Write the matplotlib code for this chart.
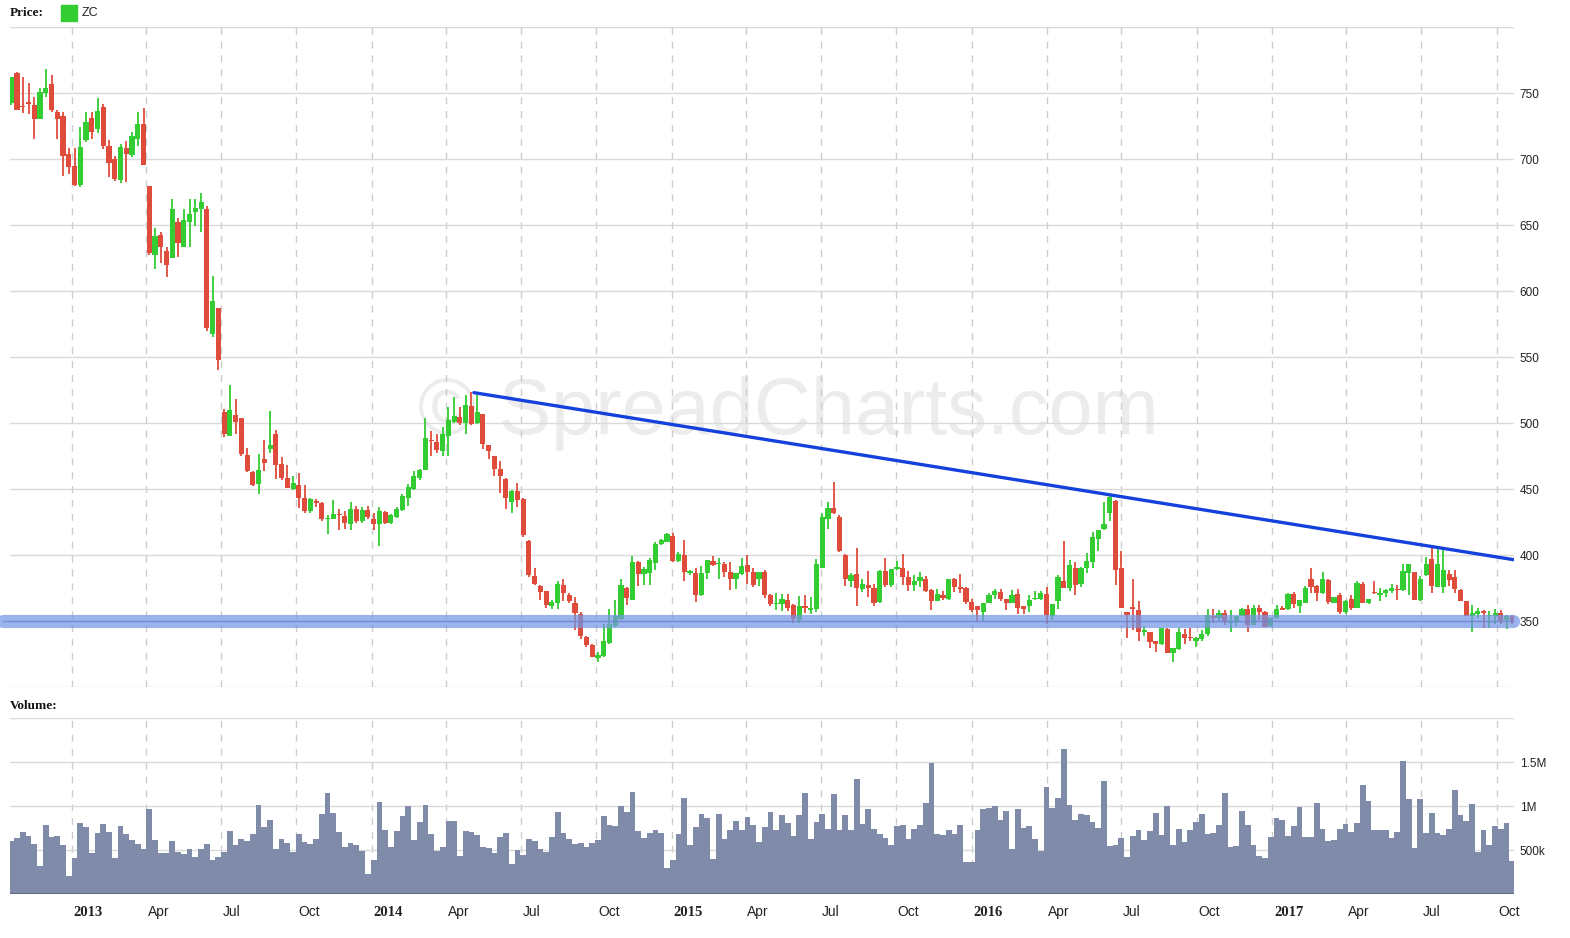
import matplotlib
matplotlib.use('Agg')
import matplotlib.pyplot as plt
import matplotlib.dates as mdates
import matplotlib.transforms as mtransforms
import numpy as np
import pandas as pd

# ---------------- data ----------------
first_week = '2012-10-19'   # weekly candles (Friday)

opens = [742.5, 765, 740.5, 743.5, 741, 730.5, 750, 757, 735.5, 732.5,
         704, 694.5, 680.5, 714.5, 731, 722.5, 739.5, 710, 700, 684,
         708.5, 703, 715.5, 726.5, 679.5, 627.5, 642.5, 630.5, 625, 652,
         633, 652.5, 659.5, 662, 662, 567.5, 587, 508, 490.5, 506,
         503.5, 476, 463, 454, 472.5, 480.5, 491.5, 469, 458.5, 450,
         453, 443.5, 433, 441, 439.5, 427, 427.5, 431, 429.5, 423.5,
         434.5, 426, 434, 427.5, 423.5, 432.5, 424.5, 429, 434, 443,
         450, 458, 464.5, 487, 485.5, 479, 490.5, 500.5, 504.5, 500,
         513, 500, 506.5, 483, 475, 465.5, 457.5, 440.5, 448.5, 442.5,
         410.5, 384, 376.5, 372.5, 361.5, 363.5, 377.5, 370, 364, 355,
         338, 332, 322, 323.5, 333, 346, 351.5, 375, 366, 395,
         385.5, 386.5, 394, 408, 410, 414.5, 395.5, 400, 386, 386,
         370, 386, 395.5, 393, 393, 387, 381.5, 385.5, 392.5, 387,
         382, 387, 369.5, 363, 363, 366, 362, 351, 361.5, 358.5,
         359, 390.5, 427.5, 435.5, 429, 400, 380.5, 385.5, 374, 377.5,
         375, 364.5, 388, 377, 389.5, 390, 383, 377.5, 380.5, 382,
         373.5, 365.5, 369.5, 367, 382, 376, 375, 364.5, 361, 357,
         364, 370, 372, 366.5, 364, 370.5, 361, 361.5, 366.5, 367,
         370.5, 354, 365.5, 380, 375, 390.5, 378, 390.5, 394.5, 412,
         419.5, 432, 441, 390, 356.5, 360.5, 358.5, 342, 341.5, 334.5,
         332.5, 344, 325.5, 328.5, 340.5, 338, 334.5, 336, 340, 354,
         352, 356, 348.5, 349, 354, 359, 347, 359.5, 357, 346.5,
         352, 360, 359, 370.5, 361.5, 364, 382, 376.5, 371, 381,
         364, 369.5, 357, 366.5, 360, 378, 364, 372, 369.5, 371,
         373, 374.5, 373.5, 386.5, 387, 366, 384.5, 397, 376, 376,
         385.5, 383.5, 373.5, 365, 353.5, 355.5, 357.5, 353.5, 353.5, 356,
         351, 354]
highs = [762, 766, 762, 757.5, 747, 753.5, 768, 764, 737, 735.5,
         708, 708, 724, 735.5, 735.5, 746.5, 742, 714.5, 702, 711.5,
         713.5, 720.5, 735.5, 738.5, 679.5, 647.5, 644.5, 633, 669.5, 655.5,
         662, 670, 670, 674.5, 664.5, 611, 587, 510.5, 529, 518.5,
         504, 481, 463.5, 476.5, 487.5, 509, 494.5, 474, 468.5, 460,
         462.5, 453, 443, 442.5, 440.5, 430, 442, 434.5, 433.5, 440.5,
         437, 436, 437, 432, 436, 433.5, 431, 436, 446, 453.5,
         463.5, 465.5, 503.5, 494, 492, 497, 512.5, 519.5, 512, 521,
         523.5, 521, 507, 483.5, 475, 471, 458.5, 449, 454.5, 443,
         411, 390, 377.5, 373, 366, 380, 381.5, 371, 368.5, 357,
         338.5, 332.5, 326.5, 348, 359, 366, 382, 375.5, 399.5, 395.5,
         391, 398, 410, 412.5, 417, 417, 402, 411, 389, 390.5,
         392, 396.5, 399.5, 397.5, 394.5, 394.5, 386, 398, 400, 390,
         387, 389, 370.5, 371.5, 370.5, 370.5, 363, 369, 369.5, 368.5,
         397, 432, 440.5, 455, 430, 400.5, 386, 405.5, 382, 388,
         378, 389, 398, 389.5, 395.5, 400.5, 388, 384.5, 387.5, 384,
         374, 374, 372.5, 382, 382.5, 385.5, 375.5, 366.5, 361.5, 364,
         371.5, 374, 374.5, 367, 373.5, 374, 361.5, 369.5, 373, 372.5,
         376, 363, 385, 410.5, 396, 395, 391, 401.5, 417.5, 419,
         440, 446.5, 441.5, 403, 357, 382, 365, 346, 342, 335,
         344.5, 344.5, 329.5, 344.5, 344, 344.5, 338, 343, 359, 359,
         358.5, 358.5, 358.5, 354, 359.5, 362.5, 362, 362.5, 357.5, 352.5,
         362.5, 361, 371, 372, 366, 376.5, 390, 377, 387, 381.5,
         368, 371, 366, 369.5, 380, 379.5, 367, 380, 375, 374,
         378, 377, 393, 393.5, 387.5, 384, 398.5, 407, 406, 404,
         389, 389, 374, 365.5, 362, 360, 358, 357.5, 359, 358,
         354.5, 354.5]
lows = [741, 737, 734.5, 734, 715, 730, 747, 735.5, 715, 687.5,
        689, 679.5, 678.5, 713, 715, 719.5, 707.5, 686, 683, 682,
        682.5, 701.5, 710, 695.5, 627.5, 617, 621, 610.5, 625, 626,
        633, 633, 649, 644.5, 569.5, 565, 540.5, 489.5, 490, 492,
        475, 463, 452, 446, 464, 477.5, 457.5, 457, 450.5, 449.5,
        435.5, 432, 432, 436, 426, 416, 427, 419, 420, 419,
        424.5, 424.5, 427, 419, 407, 423.5, 423.5, 428, 433, 437,
        449.5, 457, 464.5, 475, 477, 475, 475, 500, 498.5, 492,
        498.5, 499, 480, 473, 460, 447, 435, 431.5, 436, 414,
        383, 377, 366, 360, 359, 359, 365, 364, 343.5, 336.5,
        330.5, 322.5, 319, 323, 332.5, 345.5, 351, 362, 366, 376.5,
        377, 377, 389, 407.5, 409.5, 394.5, 395, 380, 385, 364.5,
        369, 382, 391.5, 381.5, 383, 373.5, 374, 385, 378, 375.5,
        376.5, 367.5, 361, 358, 357.5, 357.5, 348.5, 348.5, 356, 355,
        356.5, 390.5, 420, 431, 402, 376.5, 376, 361.5, 372, 368,
        361, 364, 375.5, 375.5, 389, 377, 373, 372.5, 376, 372,
        358, 365, 366, 366, 372, 371, 363, 357, 350, 350,
        363.5, 366.5, 365, 358.5, 363.5, 355.5, 355.5, 356.5, 366, 366,
        348, 350.5, 359, 375, 372.5, 369.5, 375.5, 386, 390.5, 403,
        419, 426, 377, 360, 337, 343.5, 335, 339, 329.5, 326.5,
        332, 325.5, 319, 328, 332.5, 334.5, 330, 335, 339, 348.5,
        349, 347, 341.5, 346, 353.5, 342, 347, 350.5, 345.5, 345.5,
        351.5, 358, 358.5, 359.5, 356, 363.5, 371.5, 365.5, 370.5, 363,
        363.5, 355.5, 355, 358.5, 359.5, 363.5, 363, 370.5, 365.5, 368,
        371.5, 366, 373, 369.5, 366, 365.5, 384, 371.5, 375.5, 371,
        376.5, 371.5, 365, 353.5, 342, 352, 345, 345, 348, 348,
        344, 348]
closes = [762, 737, 739.5, 742, 730.5, 751, 754, 737, 730.5, 702,
          694, 680.5, 709, 728, 720.5, 736.5, 709.5, 697, 685, 709,
          704, 717.5, 726.5, 695.5, 629, 641.5, 633, 620, 662, 636.5,
          654, 658.5, 663, 667.5, 572, 592.5, 548, 492, 510, 501,
          476.5, 464, 453, 464.5, 469.5, 483.5, 468.5, 458.5, 451, 454.5,
          443.5, 433, 442.5, 439.5, 427, 428, 431, 430, 424.5, 434.5,
          426, 434, 428.5, 423.5, 433.5, 424.5, 430, 434.5, 444.5, 451.5,
          460, 464.5, 489, 486, 479.5, 492, 502.5, 505.5, 500, 513.5,
          499, 508, 484, 478.5, 465.5, 459.5, 443.5, 448.5, 442, 415,
          385, 378, 372, 362, 364.5, 378, 371.5, 365.5, 356, 338.5,
          332, 323, 324, 335, 348, 354, 377.5, 367.5, 395, 385.5,
          389.5, 396, 408.5, 411.5, 416, 395.5, 401, 387.5, 388, 370,
          386, 396, 392.5, 394, 387, 381.5, 386, 391.5, 387, 377.5,
          387, 369.5, 363, 364, 366.5, 360, 351.5, 361.5, 359.5, 359.5,
          393.5, 429, 435.5, 431.5, 403, 382, 384.5, 375, 378, 375,
          363.5, 387.5, 377.5, 389.5, 391, 383, 377.5, 380.5, 383.5, 373,
          365, 370.5, 367.5, 382, 376, 374, 364.5, 358.5, 358, 363.5,
          370, 372.5, 366.5, 364, 369.5, 359.5, 359, 366, 367.5, 371,
          354.5, 362.5, 383, 375, 392.5, 377.5, 390.5, 395.5, 414, 419,
          423.5, 444, 389, 360, 354.5, 359, 342, 343.5, 334, 332.5,
          344.5, 325.5, 329.5, 341.5, 337, 337, 337, 340.5, 354.5, 352.5,
          356, 349.5, 349, 354, 359, 347, 360, 356.5, 345.5, 352.5,
          359, 358.5, 370.5, 363, 366, 375, 376, 371, 382, 364.5,
          368, 356.5, 365, 359.5, 379, 364, 366.5, 371, 371.5, 373.5,
          375, 373.5, 388, 393, 366, 382, 393, 376.5, 393.5, 388.5,
          381, 374, 365, 354, 356, 357.5, 356, 354, 356, 350,
          354, 349]
volumes_k = [602, 636, 705, 659, 568, 322, 784, 651, 659, 557,
             205, 405, 807, 761, 466, 693, 795, 705, 409, 773,
             682, 614, 568, 511, 966, 614, 466, 466, 602, 477,
             455, 511, 420, 511, 568, 386, 420, 477, 716, 557,
             625, 602, 682, 1011, 761, 841, 511, 625, 579, 477,
             682, 591, 568, 625, 909, 1148, 920, 705, 534, 579,
             557, 489, 231, 386, 1045, 727, 534, 716, 886, 1000,
             614, 818, 1011, 682, 492, 538, 830, 830, 435, 716,
             705, 670, 534, 523, 466, 648, 693, 341, 500, 443,
             625, 602, 511, 477, 648, 932, 693, 625, 568, 579,
             534, 579, 614, 886, 784, 773, 1000, 932, 1159, 716,
             636, 693, 727, 693, 295, 386, 682, 1091, 557, 761,
             909, 864, 398, 909, 625, 727, 830, 727, 875, 784,
             591, 761, 928, 727, 898, 807, 659, 898, 1148, 625,
             818, 909, 739, 1136, 727, 898, 727, 1307, 795, 966,
             739, 682, 636, 557, 773, 784, 625, 739, 784, 1034,
             1489, 682, 670, 727, 682, 784, 364, 364, 727, 966,
             977, 1000, 841, 943, 511, 966, 750, 773, 625, 492,
             1216, 977, 1091, 1648, 1011, 841, 909, 898, 818, 754,
             1284, 545, 557, 636, 420, 659, 727, 614, 716, 920,
             670, 1000, 557, 739, 591, 727, 818, 909, 682, 693,
             784, 1148, 538, 545, 943, 784, 557, 435, 409, 648,
             864, 841, 659, 773, 989, 648, 648, 1034, 739, 602,
             614, 739, 795, 705, 807, 1239, 1057, 727, 727, 727,
             636, 705, 1511, 1080, 523, 1080, 693, 920, 693, 670,
             739, 1182, 898, 830, 1023, 477, 727, 557, 773, 739,
             807, 375]

trend_dates = ['2014-05-05', '2017-10-21']
trend_prices = [523.0, 396.5]
support_level = 350.3

price_ticks = [350, 400, 450, 500, 550, 600, 650, 700, 750]
price_grid = [300, 350, 400, 450, 500, 550, 600, 650, 700, 750, 800]
vol_ticks = [500000, 1000000, 1500000]
vol_tick_labels = ['500k', '1M', '1.5M']
vol_grid = [500000, 1000000, 1500000, 2000000]
quarter_starts = ['2013-01-01', '2013-04-01', '2013-07-01', '2013-10-01',
                  '2014-01-01', '2014-04-01', '2014-07-01', '2014-10-01',
                  '2015-01-01', '2015-04-01', '2015-07-01', '2015-10-01',
                  '2016-01-01', '2016-04-01', '2016-07-01', '2016-10-01',
                  '2017-01-01', '2017-04-01', '2017-07-01', '2017-10-01']
quarter_labels = ['2013', 'Apr', 'Jul', 'Oct', '2014', 'Apr', 'Jul', 'Oct',
                  '2015', 'Apr', 'Jul', 'Oct', '2016', 'Apr', 'Jul', 'Oct',
                  '2017', 'Apr', 'Jul', 'Oct']

# ---------------- styling ----------------
GREEN = '#33cc33'
RED = '#df4c3b'
VOL = '#7f8ba8'
GRID = '#dadada'
VGRID = '#cccccc'

W, H = 1570, 938
fig = plt.figure(figsize=(W / 100, H / 100), dpi=100)
fig.patch.set_facecolor('white')

x_left = mdates.date2num(pd.Timestamp('2012-10-17 10:00'))
x_right = mdates.date2num(pd.Timestamp('2017-10-22'))

ax = fig.add_axes([10 / W, 1 - 687 / H, 1504 / W, 660 / H])
axv = fig.add_axes([10 / W, 1 - 894 / H, 1504 / W, 176 / H])

dates = pd.date_range(first_week, periods=len(opens), freq='7D')
xd = mdates.date2num(dates)
o = np.array(opens, float)
h = np.array(highs, float)
l = np.array(lows, float)
c = np.array(closes, float)
up = c >= o
colors = np.where(up, GREEN, RED)

qx = mdates.date2num(pd.to_datetime(quarter_starts))

for a in (ax, axv):
    a.set_xlim(x_left, x_right)
    for s in a.spines.values():
        s.set_visible(False)
    a.set_xticks([])
    for q in qx:
        a.axvline(q, color=VGRID, lw=1.0, ls=(0, (5, 5)), zorder=1)

# price panel
ax.set_ylim(300, 800)
for g in price_grid:
    ax.axhline(g, color=GRID, lw=1.0, zorder=1)

# watermark
ax.text(0.5177, 0.415, '\u00a9 SpreadCharts.com', transform=ax.transAxes,
        ha='center', va='center', fontsize=57, color='#ececec',
        family='Liberation Sans', zorder=0.5)

body_w = 6.3
ax.vlines(xd, l, h, colors=colors, lw=1.3, zorder=3)
bottoms = np.minimum(o, c)
heights = np.maximum(np.abs(c - o), 0.8)
ax.bar(xd, heights, bottom=bottoms, width=body_w, color=colors,
       edgecolor='none', zorder=4)

# support band
ax.plot([x_left - 8, x_right - 1.5], [support_level, support_level],
        color='#7596e6', lw=9.5, alpha=0.72, solid_capstyle='round',
        zorder=5, clip_on=False)
ax.plot([x_left - 8, x_right - 1.5], [support_level, support_level],
        color='#6a84d2', lw=1.0, alpha=0.8, zorder=5, clip_on=False)

# trend line
tx = mdates.date2num(pd.to_datetime(trend_dates))
ax.plot(tx, trend_prices, color='#1441dc', lw=2.4, zorder=6,
        solid_capstyle='round')

ax.yaxis.tick_right()
ax.set_yticks(price_ticks)
ax.set_yticklabels([str(t) for t in price_ticks])
ax.tick_params(axis='y', length=0, pad=4, labelsize=8.5, labelcolor='#222222')
for t in ax.get_yticklabels():
    t.set_family('Liberation Sans')

# volume panel
axv.set_ylim(0, 2000000)
for g in vol_grid:
    axv.axhline(g, color=GRID, lw=1.0, zorder=1)
axv.bar(xd, np.array(volumes_k) * 1000, width=7.0, color=VOL,
        edgecolor='none', zorder=3)
axv.axhline(0, color='#5b6478', lw=1.2, zorder=4)
axv.yaxis.tick_right()
axv.set_yticks(vol_ticks)
axv.set_yticklabels(vol_tick_labels)
axv.tick_params(axis='y', length=0, pad=4, labelsize=8.5, labelcolor='#222222')
for t in axv.get_yticklabels():
    t.set_family('Liberation Sans')

# x labels
trans = mtransforms.blended_transform_factory(axv.transData, axv.transAxes)
for q, lab in zip(qx, quarter_labels):
    bold = lab.isdigit()
    axv.text(q + 2.0, -0.105, lab, transform=trans, ha='left', va='center',
             fontsize=10.5 if bold else 10,
             family='Liberation Serif' if bold else 'Liberation Sans',
             fontweight='bold' if bold else 'normal', color='#222222')

# headers / legend
fig.text(10 / W, 1 - 13 / H, 'Price:', ha='left', va='center', fontsize=9.5,
         family='Liberation Serif', fontweight='bold', color='#111111')
fig.patches.append(plt.Rectangle((61 / W, 1 - 21 / H), 16 / W, 16 / H,
                                 transform=fig.transFigure, color=GREEN))
fig.text(82 / W, 1 - 13 / H, 'ZC', ha='left', va='center', fontsize=9,
         family='Liberation Sans', color='#222222')
fig.text(10 / W, 1 - 706 / H, 'Volume:', ha='left', va='center', fontsize=9.5,
         family='Liberation Serif', fontweight='bold', color='#111111')

fig.savefig('out.png', dpi=100, facecolor='white')
